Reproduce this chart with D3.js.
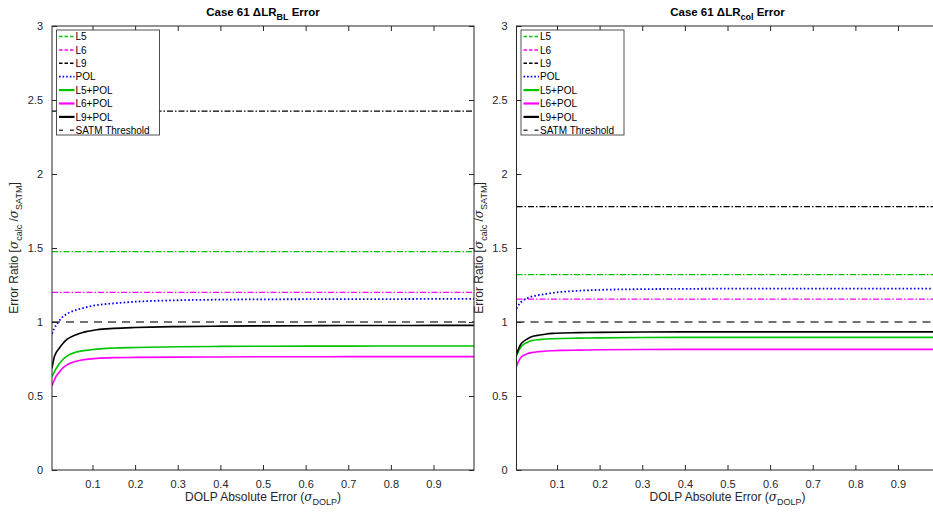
<!DOCTYPE html>
<html><head><meta charset="utf-8">
<script src="https://cdn.jsdelivr.net/npm/d3@7"></script>
<style>body{margin:0;background:#fff}svg{display:block;font-family:"Liberation Sans",Arial,sans-serif}</style>
</head><body><svg id="c" width="933" height="512"></svg>
<script>
const xs = [0.005,0.01,0.015,0.02,0.03,0.04,0.06,0.075,0.09,0.11,0.15,0.2,0.3,0.4,0.5,0.6,0.7,0.8,0.9,0.995];
const xTicks = [0.1,0.2,0.3,0.4,0.5,0.6,0.7,0.8,0.9];
const yTicks = [0,0.5,1,1.5,2,2.5,3];
const seriesNames = ["L5","L6","L9","POL","L5+POL","L6+POL","L9+POL","SATM Threshold"];
const panelTitles = [["Case 61  \u0394LR","BL"," Error"],["Case 61  \u0394LR","col"," Error"]];
// left panel (ΔLR_BL)
const bl_L5 = 1.475, bl_L6 = 1.2, bl_L9 = 2.425, threshold = 1.0;
const bl_POL   = [0.92,0.955,0.98,1.0,1.035,1.055,1.08,1.092,1.103,1.114,1.126,1.137,1.147,1.151,1.153,1.154,1.155,1.155,1.156,1.156];
const bl_L5POL = [0.63,0.66,0.687,0.709,0.745,0.77,0.795,0.805,0.81,0.817,0.824,0.828,0.833,0.835,0.836,0.837,0.837,0.838,0.838,0.838];
const bl_L6POL = [0.57,0.605,0.635,0.653,0.688,0.71,0.733,0.743,0.749,0.754,0.759,0.761,0.763,0.764,0.765,0.765,0.766,0.766,0.766,0.766];
const bl_L9POL = [0.687,0.76,0.795,0.815,0.853,0.882,0.912,0.928,0.938,0.948,0.957,0.963,0.969,0.972,0.974,0.975,0.976,0.976,0.977,0.977];
// right panel (ΔLR_col)
const col_L5 = 1.32, col_L6 = 1.155, col_L9 = 1.78;
const col_POL   = [1.09,1.115,1.133,1.145,1.16,1.171,1.183,1.19,1.197,1.203,1.211,1.217,1.222,1.224,1.225,1.225,1.225,1.225,1.225,1.225];
const col_L5POL = [0.77,0.805,0.83,0.845,0.862,0.874,0.881,0.885,0.887,0.889,0.891,0.893,0.895,0.896,0.896,0.896,0.896,0.896,0.896,0.896];
const col_L6POL = [0.70,0.735,0.76,0.773,0.785,0.793,0.8,0.804,0.806,0.808,0.81,0.812,0.814,0.815,0.815,0.815,0.815,0.815,0.815,0.815];
const col_L9POL = [0.78,0.82,0.85,0.865,0.885,0.9,0.912,0.919,0.923,0.926,0.928,0.93,0.932,0.933,0.933,0.933,0.933,0.933,0.933,0.933];

const styles = {
  "L5":{c:"#00c400",d:"6,2,1.5,2",w:1.2},
  "L6":{c:"#ff00ff",d:"6,2,1.5,2",w:1.2},
  "L9":{c:"#000",d:"6,2,1.5,2",w:1.2},
  "POL":{c:"#0000ff",d:"1.6,2.2",w:1.8},
  "L5+POL":{c:"#00c400",d:null,w:1.6},
  "L6+POL":{c:"#ff00ff",d:null,w:1.6},
  "L9+POL":{c:"#000",d:null,w:1.6},
  "SATM Threshold":{c:"#444",d:"8,6",w:1.3}
};
const panels = [
  {left:52, title:panelTitles[0], consts:{"L5":bl_L5,"L6":bl_L6,"L9":bl_L9}, curves:{"POL":bl_POL,"L5+POL":bl_L5POL,"L6+POL":bl_L6POL,"L9+POL":bl_L9POL}},
  {left:516.5, title:panelTitles[1], consts:{"L5":col_L5,"L6":col_L6,"L9":col_L9}, curves:{"POL":col_POL,"L5+POL":col_L5POL,"L6+POL":col_L6POL,"L9+POL":col_L9POL}}
];
const W = 422, yTop = 26, yBot = 470, axisCol = "#262626";
const svg = d3.select("#c");
panels.forEach((p,pi)=>{
  const x = d3.scaleLinear().domain([0.005,0.995]).range([p.left,p.left+W]);
  const y = d3.scaleLinear().domain([0,3]).range([yBot,yTop]);
  const g = svg.append("g");
  const clipId = "clip"+pi;
  svg.append("clipPath").attr("id",clipId).append("rect").attr("x",p.left).attr("y",yTop).attr("width",W).attr("height",yBot-yTop);
  const plot = g.append("g").attr("clip-path",`url(#${clipId})`);
  const line = d3.line().x(d=>x(d[0])).y(d=>y(d[1])).curve(d3.curveMonotoneX);
  const draw = (name,pts)=>{
    const s = styles[name];
    plot.append("path").attr("d",line(pts)).attr("fill","none").attr("stroke",s.c).attr("stroke-width",s.w).attr("stroke-dasharray",s.d);
  };
  ["L5","L6","L9"].forEach(n=>draw(n,[[x.domain()[0],p.consts[n]],[x.domain()[1],p.consts[n]]]));
  draw("SATM Threshold",[[x.domain()[0],threshold],[x.domain()[1],threshold]]);
  ["POL","L5+POL","L6+POL","L9+POL"].forEach(n=>draw(n,xs.map((v,i)=>[v,p.curves[n][i]])));
  g.append("rect").attr("x",p.left).attr("y",yTop).attr("width",W).attr("height",yBot-yTop).attr("fill","none").attr("stroke",axisCol).attr("stroke-width",1);
  const xb = g.append("g").attr("transform",`translate(0,${yBot})`).call(d3.axisBottom(x).tickValues(xTicks).tickSizeInner(-5).tickSizeOuter(0).tickPadding(10));
  const xt = g.append("g").attr("transform",`translate(0,${yTop})`).call(d3.axisTop(x).tickValues(xTicks).tickSizeInner(-5).tickSizeOuter(0).tickFormat(""));
  const yl = g.append("g").attr("transform",`translate(${p.left},0)`).call(d3.axisLeft(y).tickValues(yTicks).tickSizeInner(-5).tickSizeOuter(0).tickPadding(9).tickFormat(d3.format("")));
  const yr = g.append("g").attr("transform",`translate(${p.left+W},0)`).call(d3.axisRight(y).tickValues(yTicks).tickSizeInner(-5).tickSizeOuter(0).tickFormat(""));
  [xb,xt,yl,yr].forEach(a=>{a.select(".domain").remove();a.selectAll("line").attr("stroke",axisCol);a.selectAll("text").attr("fill",axisCol).style("font-size","11px").style("font-family","Liberation Sans, Arial, sans-serif");});
  const t = g.append("text").attr("x",p.left+W/2).attr("y",16).attr("text-anchor","middle").style("font-size","11.5px").style("font-weight","bold").attr("fill","#000");
  t.append("tspan").text(p.title[0]);
  t.append("tspan").attr("dy",4).style("font-size","9px").text(p.title[1]);
  t.append("tspan").attr("dy",-4).text(p.title[2]);
  const xl = g.append("text").attr("x",p.left+W/2).attr("y",501).attr("text-anchor","middle").style("font-size","12px").attr("fill",axisCol);
  xl.append("tspan").text("DOLP Absolute Error (");
  xl.append("tspan").style("font-family","DejaVu Serif, serif").style("font-style","italic").text("\u03c3");
  xl.append("tspan").attr("dy",4).style("font-size","9px").text("DOLP");
  xl.append("tspan").attr("dy",-4).text(")");
  const ylab = g.append("text").attr("transform",`translate(${p.left-34},${(yTop+yBot)/2}) rotate(-90)`).attr("text-anchor","middle").style("font-size","12px").attr("fill",axisCol);
  ylab.append("tspan").text("Error Ratio [");
  ylab.append("tspan").style("font-family","DejaVu Serif, serif").style("font-style","italic").text("\u03c3");
  ylab.append("tspan").attr("dy",4).style("font-size","9px").text("calc");
  ylab.append("tspan").attr("dy",-4).text(" /");
  ylab.append("tspan").style("font-family","DejaVu Serif, serif").style("font-style","italic").text("\u03c3");
  ylab.append("tspan").attr("dy",4).style("font-size","9px").text("SATM");
  ylab.append("tspan").attr("dy",-4).text("]");
  const lx = p.left+4.5, ly = 30;
  const lg = g.append("g");
  lg.append("rect").attr("x",lx).attr("y",ly).attr("width",103).attr("height",105).attr("fill","#fff").attr("stroke",axisCol).attr("stroke-width",0.8);
  seriesNames.forEach((n,i)=>{
    const s = styles[n];
    const yy = ly + 6.5 + i*13.4;
    lg.append("line").attr("x1",lx+2.5).attr("x2",lx+18).attr("y1",yy).attr("y2",yy).attr("stroke",s.c).attr("stroke-width",n==="POL"?1.8:s.w+(s.d?0.3:0.6)).attr("stroke-dasharray",n==="SATM Threshold"?"4,7":(s.d?(n==="POL"?"1.6,2":"3.5,2"):null));
    lg.append("text").attr("x",lx+19).attr("y",yy+3.6).style("font-size","10px").attr("fill","#000").text(n);
  });
});
</script>
</body></html>
